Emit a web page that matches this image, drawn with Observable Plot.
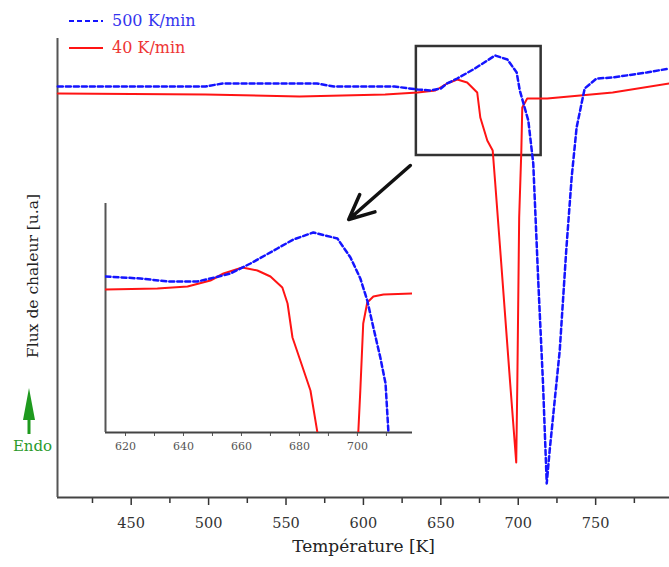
<!DOCTYPE html>
<html><head><meta charset="utf-8">
<script src="https://cdn.jsdelivr.net/npm/d3@7"></script>
<script src="https://cdn.jsdelivr.net/npm/@observablehq/plot@0.6"></script>
<style>
html,body{margin:0;padding:0;background:#fff;}
#chart{position:relative;width:669px;height:567px;overflow:hidden;font-family:"DejaVu Serif",serif;}
.leg{position:absolute;left:68px;display:flex;align-items:center;font-size:16px;white-space:nowrap;}
.leg svg{margin-right:8px;}
</style></head><body><div id="chart"></div>
<script>
// ---- Main chart data (Température [K], Flux de chaleur [u.a]) ----
const tempBlue = [402.6, 498, 509, 570, 581, 620, 635, 643, 650, 654, 660.6, 672, 685, 693, 699, 701, 706.5, 709.7, 713, 716, 718.4, 720.3, 726.8, 731, 734.5, 737.7, 742.9, 750.6, 761, 783, 797.7];
const fluxBlue = [411, 411, 414, 414, 411, 411, 408, 407, 409, 414, 419, 429, 442, 438, 425, 407, 377, 334, 214, 114, 14, 47, 147, 247, 320, 370, 409, 419, 420, 425, 429];
const tempRed = [402.6, 498, 558.7, 614, 635, 646.5, 654, 660.6, 667, 673.5, 675.5, 680, 683.5, 685, 688.4, 694.8, 698.7, 699.4, 700.6, 702, 702.6, 705.8, 718.7, 740, 761, 797.7];
const fluxRed = [404, 403, 401, 403, 405, 407, 414, 418, 415, 405, 380, 357, 347, 317, 247, 114, 35, 114, 280, 347, 390, 399, 399, 402, 405, 414];

// ---- Inset (zoom) data ----
const insetTempBlue = [613.1, 625.2, 634.5, 644.8, 649.3, 656.2, 663.1, 672.4, 677.9, 684.8, 693.1, 697.6, 701, 703.4, 705.5, 707.9, 709.7, 710.7];
const insetFluxBlue = [156, 154, 151, 151, 154, 159, 169, 184, 193, 200, 194, 175, 154, 132, 105, 75, 49, 0];
const insetTempRed = [613.1, 631, 641.4, 649.3, 653.8, 660.3, 665.5, 670, 674.1, 675.9, 677.6, 680.3, 683.8, 686.2, 693, 700.3, 701, 702, 703.4, 705.5, 709, 719];
const insetFluxRed = [143, 144, 146, 152, 159, 165, 162, 156, 145, 129, 95, 72, 42, 0, null, 0, 42, 109, 130, 136, 138, 139];

// ---- Ticks & labels ----
const majorTicks = [450, 500, 550, 600, 650, 700, 750];
const minorTicks = [425, 475, 525, 575, 625, 675, 725, 775];
const insetTicks = [620, 630, 640, 650, 660, 670, 680, 690, 700, 710];
const insetLabeled = [620, 640, 660, 680, 700];
const seriesNames = ["500 K/min", "40 K/min"];
const xTitle = "Température [K]";
const yTitle = "Flux de chaleur [u.a]";
const endoLabel = "Endo";

// ---- Domains & annotations ----
const xDomain = [402.4, 797.7];
const yDomain = [0, 459];
const insetXDomain = [613.1, 719];
const insetYDomain = [0, 229];
const zoomBox = {x1: 634.2, x2: 714.8, y1: 342, y2: 451};
const pointer = {x1: 630.3, y1: 332, x2: 590.5, y2: 278};

const blueRows = tempBlue.map((t, i) => ({t, v: fluxBlue[i]}));
const redRows = tempRed.map((t, i) => ({t, v: fluxRed[i]}));
const insetBlueRows = insetTempBlue.map((t, i) => ({t, v: insetFluxBlue[i]}));
const insetRedRows = insetTempRed.map((t, i) => ({t, v: insetFluxRed[i]}));

const BLUE = "#1414ff", RED = "#ff1414";

const main = Plot.plot({
  width: 669, height: 567,
  marginLeft: 57, marginRight: 0, marginTop: 38, marginBottom: 70,
  x: {domain: xDomain},
  y: {domain: yDomain, axis: null},
  style: {fontFamily: "DejaVu Serif", fontSize: "14.5px", color: "#333", background: "transparent", overflow: "visible"},
  marks: [
    Plot.axisX({ticks: majorTicks, tickSize: 8, tickPadding: 12, tickFormat: d => String(d), label: null, strokeWidth: 1.5}),
    Plot.axisX({ticks: minorTicks, tickSize: 6, tickFormat: () => "", label: null, strokeWidth: 1.5}),
    Plot.ruleY([yDomain[0]], {stroke: "#444", strokeWidth: 2}),
    Plot.ruleX([xDomain[0]], {stroke: "#555", strokeWidth: 2}),
    Plot.rect([zoomBox], {x1: "x1", x2: "x2", y1: "y1", y2: "y2", fill: "none", stroke: "#333", strokeWidth: 2.5}),
    Plot.arrow([pointer], {x1: "x1", y1: "y1", x2: "x2", y2: "y2", stroke: "#111", strokeWidth: 3.5, headLength: 14, headAngle: 50}),
    Plot.line(redRows, {x: "t", y: "v", stroke: RED, strokeWidth: 2}),
    Plot.line(blueRows, {x: "t", y: "v", stroke: BLUE, strokeWidth: 2.5, strokeDasharray: "5,3"}),
    Plot.text([xTitle], {frameAnchor: "bottom", dy: 54, fontSize: 17, fill: "#222", textAnchor: "middle"}),
    Plot.text([yTitle], {frameAnchor: "left", dx: -24, dy: 8, rotate: -90, fontSize: 15.5, fill: "#222", textAnchor: "middle"}),
    Plot.text([endoLabel], {frameAnchor: "bottom-left", dx: -25, dy: -47, fontSize: 15, fill: "#2a9a2a", textAnchor: "middle"})
  ]
});
main.setAttribute("style", main.getAttribute("style") + ";position:absolute;left:0;top:0;");

// green endo arrow icon
d3.select(main).append("path")
  .attr("d", "M29,388 L35,420 L30.5,420 L30.5,434 L27.5,434 L27.5,420 L23,420 Z")
  .attr("fill", "#1e9a1e");

const inset = Plot.plot({
  width: 420, height: 270,
  marginLeft: 105, marginRight: 8, marginTop: 13, marginBottom: 28,
  x: {domain: insetXDomain},
  y: {domain: insetYDomain, axis: null},
  style: {fontFamily: "DejaVu Serif", fontSize: "11px", color: "#555", background: "transparent", overflow: "visible"},
  marks: [
    Plot.axisX({ticks: insetTicks, tickSize: 4, tickPadding: 6, tickFormat: d => insetLabeled.includes(d) ? String(d) : "", label: null}),
    Plot.ruleY([insetYDomain[0]], {stroke: "#444", strokeWidth: 2}),
    Plot.ruleX([insetXDomain[0]], {stroke: "#555", strokeWidth: 2}),
    Plot.line(insetRedRows, {x: "t", y: "v", stroke: RED, strokeWidth: 2, clip: true}),
    Plot.line(insetBlueRows, {x: "t", y: "v", stroke: BLUE, strokeWidth: 2.5, strokeDasharray: "5,3", clip: true})
  ]
});

const chart = document.getElementById("chart");
chart.appendChild(main);
inset.setAttribute("style", inset.getAttribute("style") + ";position:absolute;left:0;top:190px;");
chart.appendChild(inset);

// legend
const legendDefs = [
  {name: seriesNames[0], color: BLUE, text: "#3434ee", dash: "5,3", top: 11},
  {name: seriesNames[1], color: RED, text: "#ee3434", dash: null, top: 38}
];
legendDefs.forEach(d => {
  const div = document.createElement("div");
  div.className = "leg";
  div.style.top = d.top + "px";
  div.style.color = d.text;
  div.innerHTML = `<svg width="36" height="6"><line x1="1" y1="3" x2="35" y2="3" stroke="${d.color}" stroke-width="2.2" ${d.dash ? `stroke-dasharray="${d.dash}"` : ""}/></svg><span>${d.name}</span>`;
  chart.appendChild(div);
});
</script></body></html>
